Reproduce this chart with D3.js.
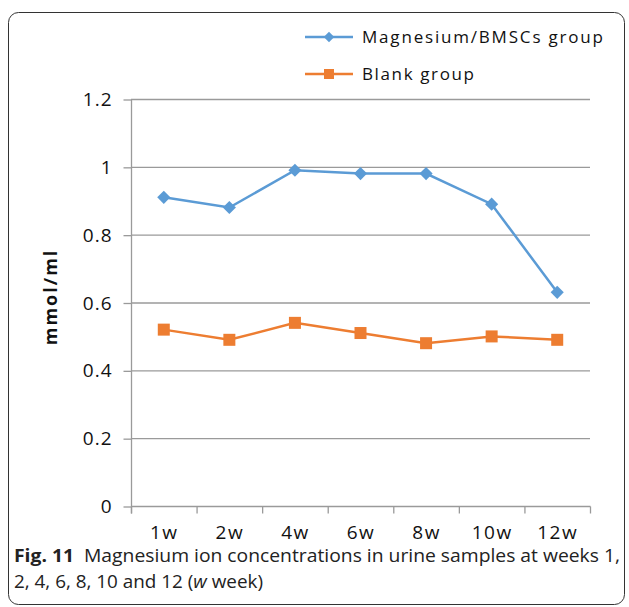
<!DOCTYPE html>
<html>
<head>
<meta charset="utf-8">
<script src="https://cdn.jsdelivr.net/npm/d3@7"></script>
<style>
  body { margin: 0; background: #fff; }
  text { font-family: "Open Sans", "Noto Sans", sans-serif; }
</style>
</head>
<body>
<script>
var width = 629;
var height = 607;

// data
var weeks = ["1w", "2w", "4w", "6w", "8w", "10w", "12w"];
var mgValues = [0.91, 0.88, 0.99, 0.98, 0.98, 0.89, 0.63];
var blankValues = [0.52, 0.49, 0.54, 0.51, 0.48, 0.50, 0.49];
var yTicks = [0, 0.2, 0.4, 0.6, 0.8, 1, 1.2];
var seriesNames = ["Magnesium/BMSCs group", "Blank group"];

var svg = d3.select("body").append("svg")
  .attr("width", width)
  .attr("height", height);

// outer frame
svg.append("rect")
  .attr("x", 8.5).attr("y", 12.5)
  .attr("width", 616).attr("height", 592)
  .attr("rx", 10).attr("ry", 10)
  .attr("fill", "none")
  .attr("stroke", "#333")
  .attr("stroke-width", 1);

var x = d3.scaleBand()
  .domain(weeks)
  .range([131, 590]);

var y = d3.scaleLinear()
  .domain([0, 1.2])
  .range([506, 99]);

var gridCol = "#9a9a9a";

// gridlines
svg.append("g")
  .selectAll("line")
  .data(yTicks.filter(function(d){ return d > 0; }))
  .enter().append("line")
  .attr("x1", 131).attr("x2", 590)
  .attr("y1", function(d){ return y(d) + 0.5; })
  .attr("y2", function(d){ return y(d) + 0.5; })
  .attr("stroke", gridCol)
  .attr("stroke-width", 1.3);

// y axis
var yAxis = svg.append("g")
  .attr("transform", "translate(131.5,0.5)")
  .call(d3.axisLeft(y).tickValues(yTicks).tickSize(8).tickPadding(11)
    .tickFormat(function(d){ return d3.format("")(d); }));
yAxis.select(".domain").remove();
yAxis.append("line").attr("x1", 0).attr("x2", 0).attr("y1", y(1.2)).attr("y2", 513)
  .attr("stroke", gridCol).attr("stroke-width", 1.3);
yAxis.selectAll(".tick line").attr("stroke", gridCol).attr("stroke-width", 1.3);
yAxis.selectAll(".tick text").attr("font-size", 19).attr("fill", "#111")
  .attr("letter-spacing", 1)
  .attr("font-family", "'Open Sans', sans-serif");

// x axis
var xAxis = svg.append("g")
  .attr("transform", "translate(0.5,506.5)");
xAxis.append("line").attr("x1", 131).attr("x2", 590).attr("y1", 0).attr("y2", 0)
  .attr("stroke", gridCol).attr("stroke-width", 1.3);
var edges = weeks.map(function(w){ return x(w); }).concat([590]);
xAxis.selectAll(".xt").data(edges).enter().append("line")
  .attr("x1", function(d){ return d; }).attr("x2", function(d){ return d; })
  .attr("y1", 0).attr("y2", 7)
  .attr("stroke", gridCol).attr("stroke-width", 1.3);
xAxis.selectAll(".xl").data(weeks).enter().append("text")
  .attr("x", function(d){ return x(d) + x.bandwidth() / 2; })
  .attr("y", 32)
  .attr("text-anchor", "middle")
  .attr("font-size", 19)
  .attr("letter-spacing", 1.5)
  .attr("fill", "#111")
  .text(function(d){ return d; });

// y label
svg.append("text")
  .attr("transform", "translate(57,297) rotate(-90)")
  .attr("text-anchor", "middle")
  .attr("font-size", 18)
  .attr("font-weight", "bold")
  .attr("letter-spacing", 2)
  .attr("fill", "#111")
  .text("mmol/ml");

var line = d3.line()
  .x(function(d, i){ return x(weeks[i]) + x.bandwidth() / 2; })
  .y(function(d){ return y(d); });

var blue = "#5b9bd5";
var orange = "#ed7d31";

// blank series
svg.append("path").datum(blankValues)
  .attr("d", line).attr("fill", "none")
  .attr("stroke", orange).attr("stroke-width", 2.5);
svg.selectAll(".sq").data(blankValues).enter().append("rect")
  .attr("x", function(d, i){ return x(weeks[i]) + x.bandwidth() / 2 - 6; })
  .attr("y", function(d){ return y(d) - 6; })
  .attr("width", 12).attr("height", 12)
  .attr("fill", orange);

// magnesium series
svg.append("path").datum(mgValues)
  .attr("d", line).attr("fill", "none")
  .attr("stroke", blue).attr("stroke-width", 2.5);
var diamond = d3.symbol().type(d3.symbolDiamond2).size(110);
svg.selectAll(".dm").data(mgValues).enter().append("path")
  .attr("transform", function(d, i){
    return "translate(" + (x(weeks[i]) + x.bandwidth() / 2) + "," + y(d) + ")";
  })
  .attr("d", diamond)
  .attr("fill", blue);

// legend
var legend = svg.append("g");
var legY = [37, 74];
var legColors = [blue, orange];
var legLen = [241, 112];
seriesNames.forEach(function(name, i){
  legend.append("line")
    .attr("x1", 305).attr("x2", 353)
    .attr("y1", legY[i]).attr("y2", legY[i])
    .attr("stroke", legColors[i]).attr("stroke-width", 2.5);
  if (i === 0) {
    legend.append("path")
      .attr("transform", "translate(329," + legY[i] + ")")
      .attr("d", d3.symbol().type(d3.symbolDiamond2).size(70))
      .attr("fill", blue);
  } else {
    legend.append("rect")
      .attr("x", 324).attr("y", legY[i] - 5)
      .attr("width", 10).attr("height", 10)
      .attr("fill", orange);
  }
  legend.append("text")
    .attr("x", 362).attr("y", legY[i] + 6)
    .attr("font-size", 17)
    .attr("textLength", legLen[i])
    .attr("lengthAdjust", "spacing")
    .attr("fill", "#111")
    .text(name);
});

// caption
var cap = svg.append("text")
  .attr("x", 14).attr("y", 562)
  .attr("font-size", 18)
  .attr("textLength", 606)
  .attr("lengthAdjust", "spacingAndGlyphs")
  .attr("fill", "#222");
cap.append("tspan").attr("font-weight", "bold").text("Fig. 11");
cap.append("tspan").text("\u00a0\u00a0Magnesium ion concentrations in urine samples at weeks 1,");
var cap2 = svg.append("text")
  .attr("x", 14).attr("y", 588)
  .attr("font-size", 18)
  .attr("textLength", 249)
  .attr("lengthAdjust", "spacingAndGlyphs")
  .attr("fill", "#222");
cap2.append("tspan").text("2, 4, 6, 8, 10 and 12 (");
cap2.append("tspan").attr("font-style", "italic").text("w");
cap2.append("tspan").text(" week)");
</script>
</body>
</html>
